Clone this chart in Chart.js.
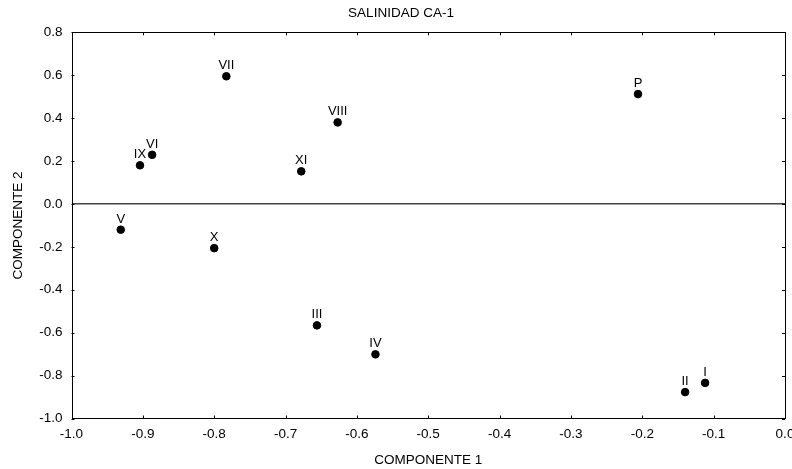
<!DOCTYPE html>
<html><head><meta charset="utf-8">
<script src="https://cdn.jsdelivr.net/npm/chart.js@4/dist/chart.umd.min.js"></script>
<style>html,body{margin:0;padding:0;background:#fff}</style>
</head><body>
<canvas id="c" width="792" height="469"></canvas>
<script>
const pointLabels = ['P','I','II','III','IV','V','VI','VII','VIII','IX','X','XI'];
const comp1 = [-0.206,-0.112,-0.140,-0.656,-0.574,-0.931,-0.887,-0.783,-0.627,-0.904,-0.800,-0.678];
const comp2 = [0.512,-0.834,-0.877,-0.566,-0.701,-0.120,0.229,0.595,0.380,0.180,-0.206,0.152];
const xTickValues = [-1.0,-0.9,-0.8,-0.7,-0.6,-0.5,-0.4,-0.3,-0.2,-0.1,0.0];
const yTickValues = [-1.0,-0.8,-0.6,-0.4,-0.2,0.0,0.2,0.4,0.6,0.8];
const chartTitle = 'SALINIDAD CA-1';
const xTitle = 'COMPONENTE 1';
const yTitle = 'COMPONENTE 2';

const FONT = 'Liberation Sans, Arial, sans-serif';
const fmt = v => (Math.abs(v) < 1e-9 ? 0 : v).toFixed(1);

const decor = {
  id: 'decor',
  afterDatasetsDraw(chart) {
    const ctx = chart.ctx, a = chart.chartArea;
    const xs = chart.scales.x, ys = chart.scales.y;
    ctx.save();
    ctx.strokeStyle = '#000';
    ctx.lineWidth = 1;
    ctx.strokeRect(Math.round(a.left) + 0.5, Math.round(a.top) + 0.5,
                   Math.round(a.right - a.left) - 1, Math.round(a.bottom - a.top));
    const tl = 3;
    ctx.beginPath();
    xTickValues.forEach(v => {
      const px = Math.round(xs.getPixelForValue(v)) + 0.5;
      ctx.moveTo(px, a.top); ctx.lineTo(px, a.top + tl);
      ctx.moveTo(px, a.bottom); ctx.lineTo(px, a.bottom - tl);
    });
    yTickValues.forEach(v => {
      const py = Math.round(ys.getPixelForValue(v)) + 0.5;
      ctx.moveTo(a.left, py); ctx.lineTo(a.left + tl, py);
      ctx.moveTo(a.right, py); ctx.lineTo(a.right - tl, py);
    });
    ctx.stroke();
    ctx.fillStyle = '#000';
    ctx.font = '13px ' + FONT;
    ctx.textAlign = 'center';
    ctx.textBaseline = 'alphabetic';
    const meta = chart.getDatasetMeta(0);
    meta.data.forEach((pt, i) => {
      ctx.fillText(pointLabels[i], pt.x, pt.y - 7);
    });
    ctx.restore();
  }
};

new Chart(document.getElementById('c'), {
  type: 'scatter',
  data: {
    datasets: [{
      data: comp1.map((x, i) => ({x: x, y: comp2[i]})),
      backgroundColor: '#000',
      borderColor: '#000',
      pointRadius: 3.8,
      pointHoverRadius: 3.8
    }]
  },
  options: {
    responsive: false,
    animation: false,
    devicePixelRatio: 1,
    layout: {padding: {top: 0, right: 7, bottom: 0, left: 17}},
    plugins: {
      legend: {display: false},
      tooltip: {enabled: false},
      title: {
        display: true, text: chartTitle, color: '#000',
        font: {family: FONT, size: 13.5, weight: 'normal'},
        padding: {top: 5.5, bottom: 10.6}
      }
    },
    scales: {
      x: {
        type: 'linear', min: -1, max: 0,
        afterBuildTicks: s => { s.ticks = xTickValues.map(v => ({value: v})); },
        ticks: {callback: fmt, color: '#000', font: {family: FONT, size: 13.5}, padding: 8, maxRotation: 0, autoSkip: false},
        grid: {display: false, drawTicks: false},
        border: {display: false},
        title: {display: true, text: xTitle, color: '#000', font: {family: FONT, size: 13.5}, padding: {top: 0, bottom: 1}},
        afterFit: s => { s.height = 50.5; s.paddingLeft = 0; s.paddingRight = 0; }
      },
      y: {
        type: 'linear', min: -1, max: 0.8,
        afterBuildTicks: s => { s.ticks = yTickValues.map(v => ({value: v})); },
        ticks: {callback: fmt, color: '#000', font: {family: FONT, size: 13.5}, padding: 9, autoSkip: false},
        grid: {
          drawTicks: false,
          color: c => (c.tick && Math.abs(c.tick.value) < 1e-9) ? '#444' : 'rgba(0,0,0,0)',
          lineWidth: c => (c.tick && Math.abs(c.tick.value) < 1e-9) ? 1.5 : 0
        },
        border: {display: false},
        title: {display: true, text: yTitle, color: '#000', font: {family: FONT, size: 13.5}, padding: {top: -7, bottom: 0}},
        afterFit: s => { s.width = 54.5; s.paddingTop = 0; s.paddingBottom = 0; }
      }
    }
  },
  plugins: [decor]
});
</script>
</body></html>
